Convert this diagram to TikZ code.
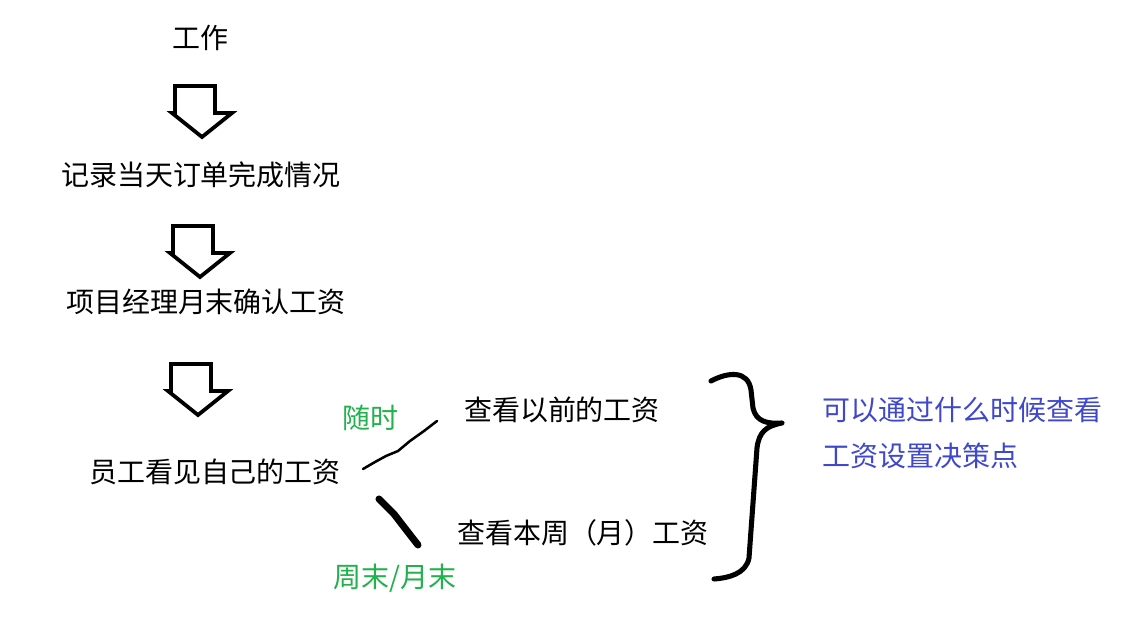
\documentclass[tikz,border=0pt]{standalone}
\usepackage{fontspec}
\setmainfont{Noto Sans CJK SC}
\usepackage{tikz}
\usetikzlibrary{positioning}
\definecolor{notegreen}{HTML}{22B14C}
\definecolor{noteblue}{HTML}{3F48CC}

\begin{document}
\begin{tikzpicture}[
  x=0.025cm, y=-0.025cm,
  stage/.style={font=\fontsize{19.9pt}{24pt}\selectfont, inner sep=0pt},
  note/.style={font=\fontsize{19.9pt}{24pt}\selectfont, inner sep=0pt, text=notegreen},
  idea/.style={font=\fontsize{19.9pt}{33pt}\selectfont, inner sep=0pt, text=noteblue, align=left},
  hollow/.style={draw, line width=2.7pt, fill=white, line join=miter},
  pen/.style={line cap=round, line join=round}
]
\useasboundingbox (0,0) rectangle (1121,624);

% flow on the left
\node[stage] (work) at (200,38) {工作};
\node[stage] (record) at (201,175) {记录当天订单完成情况};
\node[stage] (confirm) at (206,302) {项目经理月末确认工资};
\node[stage] (see) at (215,472) {员工看见自己的工资};

% hollow arrows between the stages
\coordinate (a1) at (202,86);
\coordinate (a2) at (200,226);
\coordinate (a3) at (198,364);
\foreach \a in {a1,a2,a3}
  \draw[hollow] (\a) ++(-27,0) -- ++(40,0) -- ++(0,27) -- ++(17,0)
    -- ++(-30,24) -- ++(-30,-24) -- ++(3,0) -- cycle;

% two ways of looking
\node[stage] (past) at (562,410) {查看以前的工资};
\node[stage] (week) at (583,533) {查看本周（月）工资};
\node[note] (anytime) at (370,418) {随时};
\node[note] (weekend) at (395,578) {周末/月末};

\coordinate (t1) at (363,469);
\coordinate (t2) at (437,421);
\coordinate (k1) at (379,499);
\coordinate (k2) at (418,545);
\draw[pen, line width=1.8pt] (t1) -- (375,462) -- (386,456) -- (398,451)
  -- (410,441) -- (424,431) -- (t2);
\draw[pen, line width=5pt] (k1) -- (394,514) -- (404,527) -- (k2);

% brace and the question
\coordinate (btop) at (711,381);
\coordinate (btip) at (782,423);
\coordinate (bbot) at (714,579);
\draw[pen, line width=3.6pt] (btop) .. controls (728,372) and (748,370) .. (751,390)
  -- (753,408) .. controls (756,422) and (768,424) .. (btip)
  .. controls (766,426) and (759,432) .. (757,448)
  -- (749,558) .. controls (746,574) and (728,578) .. (bbot);
\node[idea, anchor=west] (question) at (822,433) {可以通过什么时候查看\\工资设置决策点};
\end{tikzpicture}
\end{document}
